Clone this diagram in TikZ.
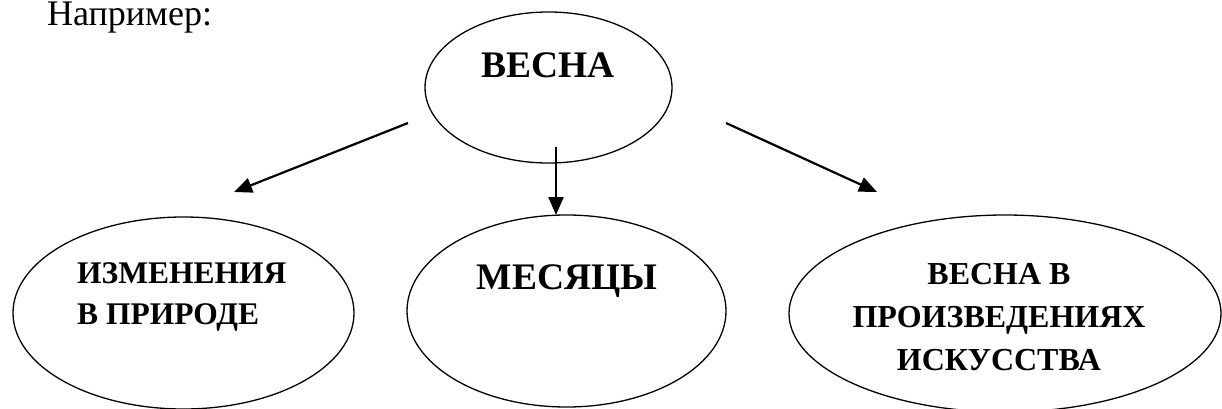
\documentclass[tikz,border=0pt]{standalone}
\usepackage{fontspec}
\setmainfont{Liberation Serif}
\usetikzlibrary{shapes.geometric,arrows.meta}

\begin{document}
\begin{tikzpicture}[x=1pt,y=-1pt,
  oval/.style={draw,ellipse,line width=1.3pt,inner sep=0pt},
  lbl/.style={inner sep=0pt,font=\bfseries\fontsize{32}{43}\selectfont,align=center},
  arr/.style={line width=2.2pt,-{Triangle[length=18pt,width=15pt]}}]
\useasboundingbox (0,0) rectangle (1222,409);
\node[anchor=base west,inner sep=0pt,font=\fontsize{36}{40}\selectfont] (intro) at (47,26) {Например:};
        \node[oval,minimum width=247pt,minimum height=151pt] (vesna) at (548.5,87.5) {};
        \node[oval,minimum width=341pt,minimum height=192pt] (izm) at (183.5,313) {};
        \node[oval,minimum width=319pt,minimum height=192pt] (mes) at (566.5,311) {};
        \node[oval,minimum width=432pt,minimum height=197pt] (isk) at (1005,313.5) {};
\node[lbl,anchor=base,font=\bfseries\fontsize{37.5}{42}\selectfont] (tvesna) at (548,78) {ВЕСНА};
\node[lbl,anchor=north west,align=left,font=\bfseries\fontsize{31.5}{41.5}\selectfont] (tizm) at (77,262) {ИЗМЕНЕНИЯ\\В ПРИРОДЕ};
\node[lbl,anchor=base,font=\bfseries\fontsize{37.5}{42}\selectfont] (tmes) at (567,289) {МЕСЯЦЫ};
\node[lbl,anchor=north] (tisk) at (999,263) {ВЕСНА В\\ПРОИЗВЕДЕНИЯХ\\ИСКУССТВА};
\coordinate (s1) at (408,123); \coordinate (e1) at (234,192);
\coordinate (s2) at (556,147); \coordinate (e2) at (556,215);
\coordinate (s3) at (726,123); \coordinate (e3) at (877,192);
\draw[arr] (s1) -- (e1);
\draw[arr] (s2) -- (e2);
\draw[arr] (s3) -- (e3);
           \end{tikzpicture}
\end{document}
